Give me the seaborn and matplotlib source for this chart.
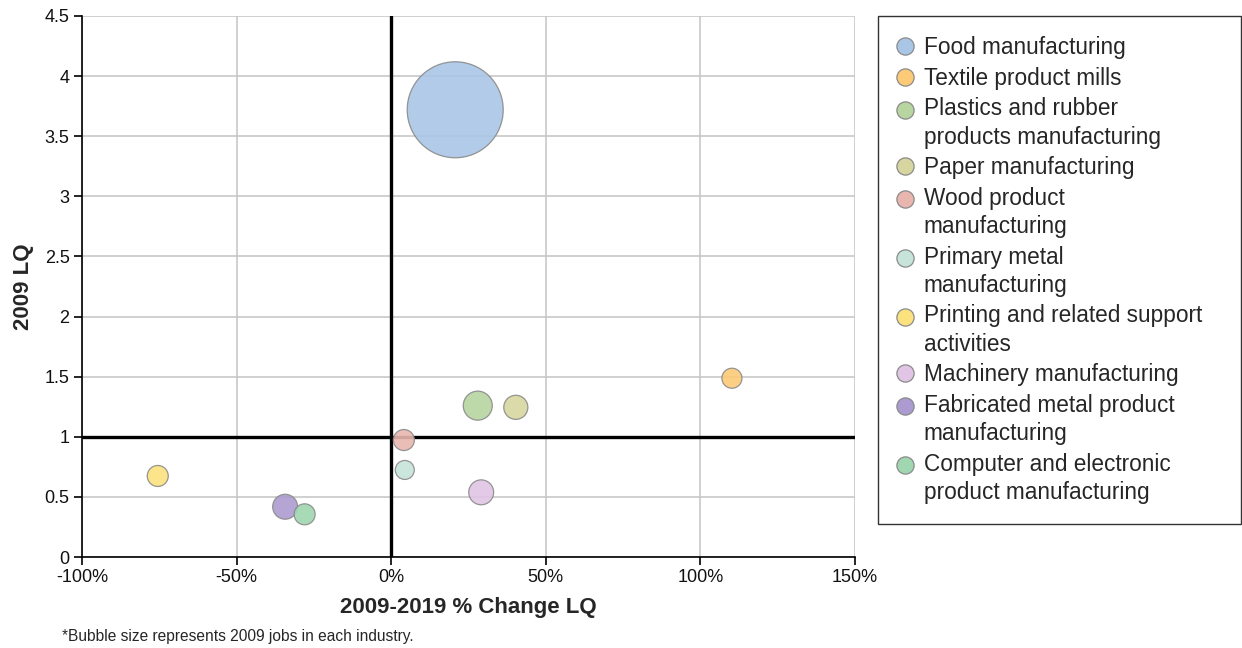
import pandas as pd
import matplotlib
matplotlib.use('Agg')
import matplotlib.pyplot as plt
from matplotlib.lines import Line2D
from matplotlib.legend_handler import HandlerLine2D
from matplotlib.ticker import FuncFormatter
import seaborn as sns

# Data
industries = ['Food manufacturing', 'Textile product mills',
              'Plastics and rubber\nproducts manufacturing', 'Paper manufacturing',
              'Wood product\nmanufacturing', 'Primary metal\nmanufacturing',
              'Printing and related support\nactivities', 'Machinery manufacturing',
              'Fabricated metal product\nmanufacturing',
              'Computer and electronic\nproduct manufacturing']
pct_change = [20.7, 110.2, 28.0, 40.3, 4.1, 4.4, -75.5, 29.1, -34.3, -28.0]
lq_2009 = [3.72, 1.487, 1.259, 1.245, 0.973, 0.724, 0.674, 0.538, 0.418, 0.355]
jobs_2009 = [9200, 400, 840, 580, 440, 360, 440, 620, 620, 440]
colors = ['#a9c6e6', '#fdca77', '#b6d5a0', '#d8d6a0', '#e9b6af', '#c6e4da',
          '#fce27f', '#e0c5e5', '#ac9bd0', '#a0d6b0']

data = pd.DataFrame({'industry': industries, 'pct': pct_change,
                     'lq': lq_2009, 'jobs': jobs_2009})

sns.set_style('white')
plt.rcParams['font.family'] = ['Liberation Sans', 'DejaVu Sans']

fig = plt.figure(figsize=(12.42, 6.48), dpi=100)
ax = fig.add_axes([82 / 1242, 1 - 557 / 648, 773 / 1242, 541 / 648])

ax.grid(True, color='#c8c8c8', linewidth=1.2, zorder=0)
ax.set_axisbelow(True)

sns.scatterplot(data=data, x='pct', y='lq', hue='industry', size='jobs',
                palette=colors, sizes=(0, 4777), size_norm=(0, 9200),
                edgecolor='#8a8a8a', linewidth=0.9, alpha=0.9,
                legend=False, ax=ax, zorder=3)

ax.axvline(0, color='black', linewidth=2.4, zorder=2)
ax.axhline(1, color='black', linewidth=2.4, zorder=2)

ax.set_xlim(-100, 150)
ax.set_ylim(0, 4.5)
ax.set_xticks([-100, -50, 0, 50, 100, 150])
ax.set_yticks([0, 0.5, 1, 1.5, 2, 2.5, 3, 3.5, 4, 4.5])
ax.xaxis.set_major_formatter(FuncFormatter(lambda v, p: f'{v:.0f}%'))
ax.yaxis.set_major_formatter(FuncFormatter(lambda v, p: f'{v:g}'))
ax.tick_params(axis='both', labelsize=13, length=6, width=1.2, color='black',
               labelcolor='#111111', direction='out', left=True, bottom=True, pad=3)
for side in ['top', 'right']:
    ax.spines[side].set_visible(False)
for side in ['left', 'bottom']:
    ax.spines[side].set_color('black')
    ax.spines[side].set_linewidth(1.2)

ax.set_xlabel('2009-2019 % Change LQ', fontsize=16, fontweight='bold', va='center')
ax.set_ylabel('2009 LQ', fontsize=16, fontweight='bold', va='center')
ax.xaxis.set_label_coords(0.5, (557 - 607) / 541)
ax.yaxis.set_label_coords((23 - 82) / 773, 0.5)

fig.text(62 / 1242, 1 - 636 / 648, '*Bubble size represents 2009 jobs in each industry.',
         fontsize=11.2, va='center')


# keep the legend marker level with the first line of a wrapped label
class FirstLineHandler(HandlerLine2D):
    def __init__(self, shift, **kw):
        super().__init__(**kw)
        self.shift = shift

    def create_artists(self, legend, orig_handle, xdescent, ydescent, width,
                       height, fontsize, trans):
        return super().create_artists(legend, orig_handle, xdescent,
                                      ydescent - 2 * self.shift, width, height,
                                      fontsize, trans)


handles = [Line2D([0], [0], marker='o', linestyle='none', markersize=12.4,
                  markerfacecolor=c, markeredgecolor='#8a8a8a', markeredgewidth=0.9)
           for c in colors]
hmap = {h: FirstLineHandler(10.1 if '\n' in lab else 0.0)
        for h, lab in zip(handles, industries)}
leg = fig.legend(handles, industries, loc='upper left', mode='expand',
                 bbox_to_anchor=(878 / 1242, 1 - 16 / 648, 363 / 1242, 0),
                 fontsize=16.3, frameon=True, fancybox=False, edgecolor='black',
                 handletextpad=0.56, labelspacing=0.33, borderpad=0.9,
                 handlelength=0.56, borderaxespad=0, handler_map=hmap)
leg.get_frame().set_linewidth(1.0)
for t in leg.get_texts():
    t.set_linespacing(1.3)

fig.savefig('out.png', dpi=100)
